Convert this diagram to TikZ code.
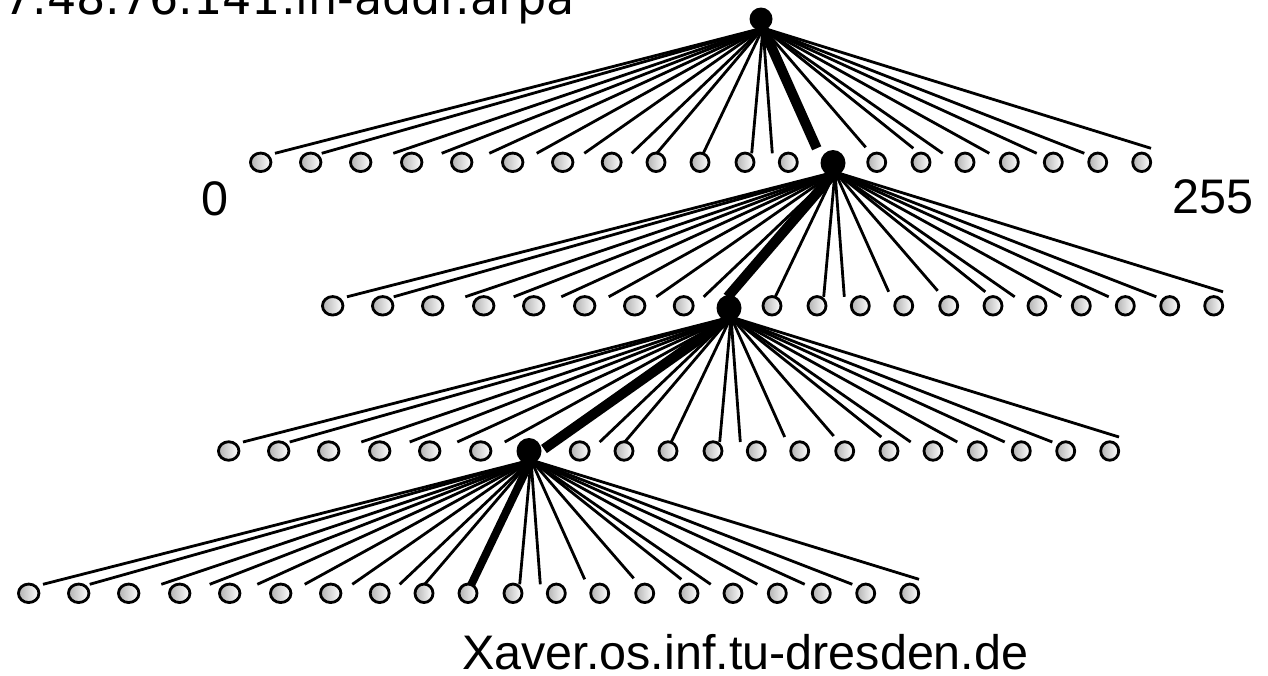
\documentclass[tikz,border=0pt]{standalone}
\usepackage{fontspec}
\setmainfont{Liberation Sans}
\newfontfamily\dejavu{DejaVu Sans}
\usetikzlibrary{shapes.geometric}
\pgfdeclarelayer{bg}
\pgfsetlayers{bg,main}
\newcommand\leafxlist{260.7,310.7,360.7,411.7,461.7,512.7,562.7,611.7,656,700,745,788.3,831.7,876.7,921,965,1009.3,1053.3,1097.7,1141.7}
\newcommand\twiglist{275/153.3,321.7/153.3,393.3/153.3,441.7/153.3,489.3/153.3,536.7/153.3,584.3/153.3,631.7/153.3,656.7/153.3,703.3/153.3,751.7/153.3,772.3/153.3,816.7/148.3,865.7/147.3,913.3/148.3,942.7/153.3,989.3/153.3,1036.7/153.3,1084.3/153.3,1151/148.3}
% #1 level, #2 shift x, #3 shift y, #4 black child index, #5 thick line index
\newcommand\drawlevel[5]{%
  \begin{scope}[shift={(#2,#3)}]
    \foreach \x [count=\i from 0] in \leafxlist {%
      \ifnum\i=#4\relax\else
        \pgfmathsetmacro\w{\i<7 ? 20.5 : (\i==7 ? 19 : 18)}%
        \node[leaf, minimum width=\w pt] (L#1c\i) at (\x,162.3) {};
      \fi
    }
    \foreach \ex/\ey [count=\i from 0] in \twiglist {%
      \ifnum\i=#5\relax\else
        \coordinate (L#1e\i) at (\ex,\ey);
        \begin{pgfonlayer}{bg}\draw[twig] (R#1s) -- (L#1e\i);\end{pgfonlayer}
      \fi
    }
  \end{scope}}
\begin{document}
\begin{tikzpicture}[x=1pt,y=-1pt,
  leaf/.style={ellipse, draw=black, line width=2.8pt, minimum height=18.5pt,
    inner sep=0pt, left color=white!70!black, right color=white},
  blacknode/.style={ellipse, fill=black, minimum width=25pt, minimum height=26pt, inner sep=0pt},
  rootdot/.style={circle, fill=black, minimum size=23pt, inner sep=0pt},
  twig/.style={line width=2.8pt},
  trunk/.style={line width=10pt},
  bigtext/.style={inner sep=0pt, font=\fontsize{48.5}{48.5}\selectfont}]
\useasboundingbox (0,0) rectangle (1268,675);
% roots / path nodes
\node[rootdot] (R1) at (761,19) {};
\node[blacknode] (R2) at (833,163) {};
\node[blacknode] (R3) at (729,308) {};
\node[blacknode] (R4) at (529,451) {};
\foreach \r in {1,2,3,4} {\coordinate (R\r s) at ([shift={(2,9)}]R\r.center);}
% levels
\drawlevel{1}{0}{0}{12}{12}
\drawlevel{2}{72}{143.5}{8}{8}
\drawlevel{3}{-32}{288.7}{6}{6}
\drawlevel{4}{-232}{431}{-1}{9}
% thick path
\coordinate (T1) at (816.7,148.3);
\coordinate (T2) at (727.5,297);
\coordinate (T3) at (544,449);
\coordinate (T4) at (471.3,584.5);
\begin{pgfonlayer}{bg}
\draw[trunk] (R1s) -- (T1);
\draw[trunk] (R2s) -- (T2);
\draw[trunk] (R3s) -- (T3);
\draw[trunk, line width=8pt] (R4s) -- (T4);
\end{pgfonlayer}
% texts
\node[anchor=base west, inner sep=0pt, font=\dejavu\fontsize{46}{46}\selectfont] (arpa) at (3,14) {7.48.76.141.in-addr.arpa};
\node[bigtext, anchor=base] (zero) at (215,215) {0};
\node[bigtext, anchor=base west] (top) at (1172,213) {255};
\node[bigtext, anchor=base west] (host) at (462,669) {Xaver.os.inf.tu-dresden.de};
\end{tikzpicture}
\end{document}
